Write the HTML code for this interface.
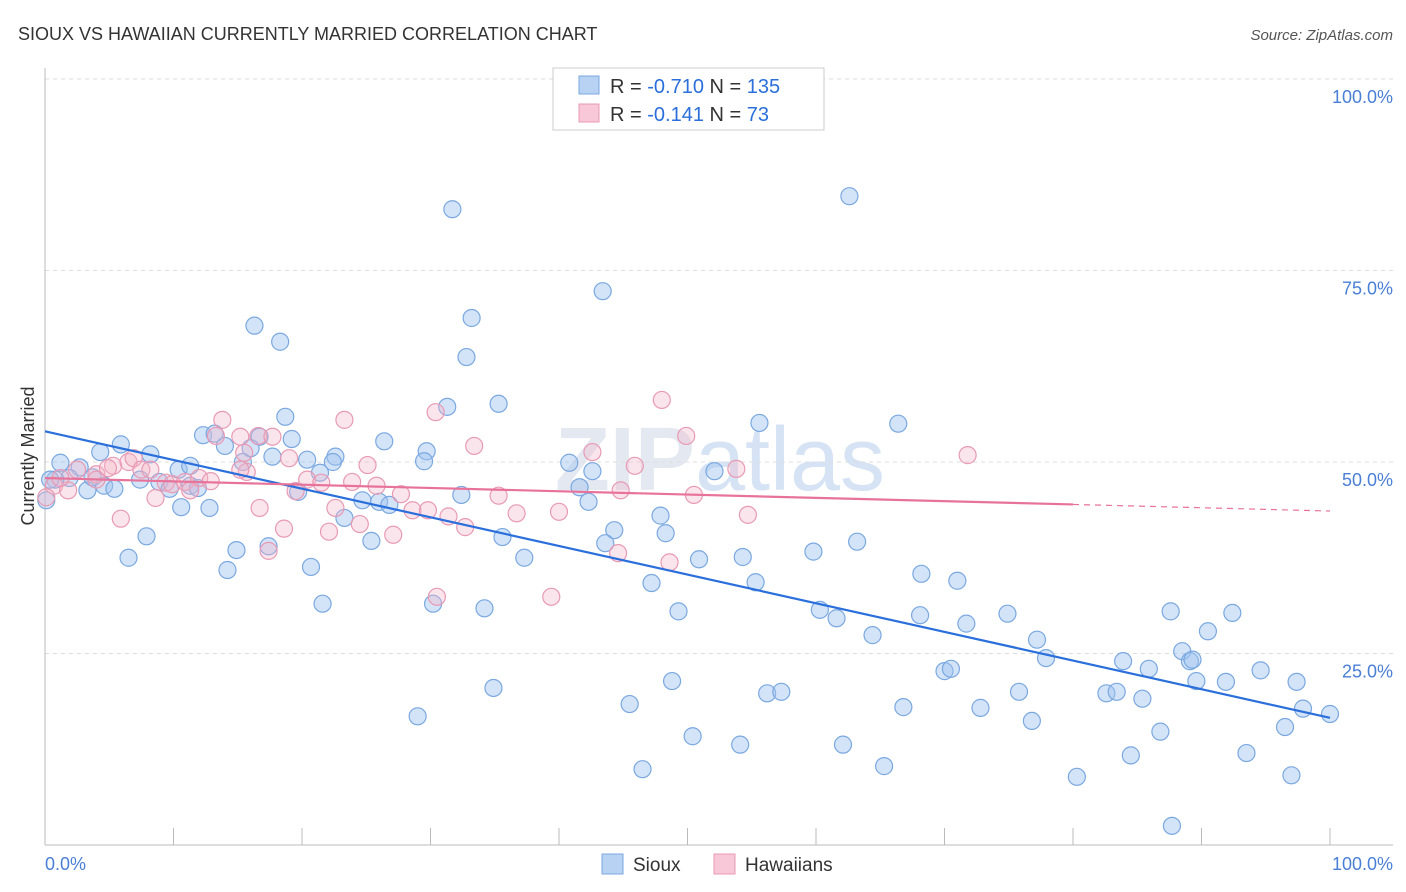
<!DOCTYPE html>
<html><head><meta charset="utf-8"><style>
body{margin:0;background:#fff;font-family:"Liberation Sans",sans-serif;}
svg{display:block}
</style></head><body>
<svg width="1406" height="892" xmlns="http://www.w3.org/2000/svg">
<text x="18" y="40" font-size="18" fill="#333">SIOUX VS HAWAIIAN CURRENTLY MARRIED CORRELATION CHART</text>
<text x="1393" y="40" font-size="15" fill="#555" text-anchor="end" font-style="italic">Source: ZipAtlas.com</text>
<text x="720" y="490" font-size="90" fill="#e4e9f1" text-anchor="middle" font-weight="bold">ZIP<tspan font-weight="normal" fill="#d6e3f5">atlas</tspan></text>
<text transform="translate(34,456) rotate(-90)" font-size="18" fill="#333" text-anchor="middle">Currently Married</text>
<g id="grid"></g>
<g id="marks"></g>
<g id="trends"></g>
<g>
<rect x="553" y="68" width="271" height="62" fill="#fff" stroke="#ccc"/>
<rect x="579" y="76" width="20" height="18" fill="#b8d2f4" stroke="#7aa8e0"/>
<rect x="579" y="104" width="20" height="18" fill="#f8c8d8" stroke="#e89ab4"/>
<text x="610" y="93" font-size="20" fill="#333">R = <tspan fill="#2a6fdb">-0.710</tspan>   N = <tspan fill="#2a6fdb">135</tspan></text>
<text x="610" y="121" font-size="20" fill="#333">R =  <tspan fill="#2a6fdb">-0.141</tspan>   N =  <tspan fill="#2a6fdb"> 73</tspan></text>
</g>
<g>
<rect x="602" y="854" width="21" height="20" fill="#b8d2f4" stroke="#7aa8e0"/>
<text x="633" y="871" font-size="19" fill="#333">Sioux</text>
<rect x="714" y="854" width="21" height="20" fill="#f8c8d8" stroke="#e89ab4"/>
<text x="745" y="871" font-size="19" fill="#333">Hawaiians</text>
</g>
</svg>
<script>
const yTicks=[100,75,50,25];
const xTickLabels=["0.0%","100.0%"];
const blueX=[62.6,31.7,43.4,16.3,18.3,33.2,32.8,35.3,31.3,18.7,55.6,66.4,5.9,8.2,4.3,12.3,13.2,16.7,19.2,26.4,29.7,29.5,22.6,20.4,22.4,15.4,16.0,17.7,14.0,1.2,2.7,1.9,0.8,3.3,4.6,5.4,3.7,7.4,8.9,9.7,11.3,10.4,11.3,11.9,10.6,12.8,7.9,6.5,14.9,14.2,17.4,20.7,21.6,19.7,21.4,23.3,24.7,26.0,25.4,26.8,32.4,35.6,37.3,40.8,41.6,42.6,42.3,44.3,43.6,30.2,34.2,29.0,34.9,45.5,46.5,47.9,48.3,47.2,49.3,48.8,50.4,50.9,52.1,54.3,55.3,54.1,56.2,57.3,59.8,60.3,61.6,63.2,64.4,62.1,65.3,66.8,68.2,68.1,70.0,70.5,71.0,71.7,72.8,74.9,75.8,77.2,77.9,76.8,80.3,82.6,83.4,83.9,84.5,85.4,85.9,86.8,87.6,88.5,89.1,89.3,89.6,90.5,91.9,92.4,94.6,93.5,87.7,96.5,97.4,97.0,97.9,100.0,0.4,0.1];
const blueY=[84.7,83.0,72.3,67.8,65.7,68.8,63.7,57.6,57.2,55.9,55.1,55.0,52.3,51.0,51.3,53.5,53.7,53.3,53.0,52.7,51.4,50.1,50.7,50.3,50.0,50.0,51.8,50.7,52.1,49.9,49.3,47.9,47.7,46.3,46.9,46.5,48.0,47.7,47.4,46.5,46.9,49.0,49.5,46.6,44.1,44.0,40.3,37.5,38.5,35.9,39.0,36.3,31.5,46.1,48.6,42.7,45.0,44.8,39.7,44.4,45.7,40.2,37.5,49.9,46.7,48.8,44.8,41.1,39.4,31.5,30.9,16.8,20.5,18.4,9.9,43.0,40.7,34.2,30.5,21.4,14.2,37.3,48.8,37.6,34.3,13.1,19.8,20.0,38.3,30.7,29.6,39.6,27.4,13.1,10.3,18.0,35.4,30.0,22.7,23.0,34.5,28.9,17.9,30.2,20.0,26.8,24.4,16.2,8.9,19.8,20.0,24.0,11.7,19.1,23.0,14.8,30.5,25.3,24.0,24.2,21.4,27.9,21.3,30.3,22.8,12.0,2.5,15.4,21.3,9.1,17.8,17.1,47.7,45.0];
const pinkX=[0.7,1.8,0.1,1.2,2.5,4.0,4.0,5.3,6.5,6.9,7.5,8.2,8.6,9.4,9.9,10.9,12.0,12.9,5.9,13.8,13.3,15.2,15.5,15.7,16.7,16.6,17.7,18.6,17.4,19.0,19.5,20.4,21.5,22.1,22.6,23.3,23.9,24.5,25.1,25.8,27.1,27.7,28.6,29.8,30.4,30.5,31.4,32.7,33.4,35.3,36.7,39.4,40.0,42.6,44.6,44.8,45.9,48.0,48.6,49.9,50.5,53.8,54.7,71.8,15.2,11.3,4.9];
const pinkY=[46.9,46.3,45.4,47.9,49.0,48.4,47.7,49.5,50.0,50.5,49.0,49.0,45.3,47.3,47.1,47.4,47.9,47.5,42.6,55.5,53.4,53.3,51.2,48.7,44.0,53.4,53.3,41.3,38.4,50.5,46.2,47.7,47.3,40.9,44.0,55.5,47.4,41.9,49.6,46.9,40.5,45.8,43.7,43.7,56.5,32.4,42.9,41.5,52.1,45.6,43.3,32.4,43.5,51.3,38.1,46.3,49.5,58.1,36.9,53.4,45.7,49.1,43.1,50.9,49.0,46.3,49.2];
const blueTrend=[54.0,16.6];
const pinkTrend=[47.9,43.6];
const pinkSolidEnd=80;

const NS="http://www.w3.org/2000/svg";
const X0=45,X1=1330,Y0=845,Y100=79;
const sx=v=>X0+(X1-X0)*v/100;
const sy=v=>Y0-(Y0-Y100)*v/100;
function mk(tag,attrs,parent){const e=document.createElementNS(NS,tag);for(const k in attrs)e.setAttribute(k,attrs[k]);parent.appendChild(e);return e;}
const grid=document.getElementById('grid'),marks=document.getElementById('marks'),trends=document.getElementById('trends');
yTicks.forEach(t=>{
 const l=mk('line',{x1:45,x2:1393,y1:sy(t),y2:sy(t),stroke:'#ddd','stroke-dasharray':'4,4'},grid);
 
 
 const tx=mk('text',{x:1393,y:sy(t)+24,'font-size':18,fill:'#4a7fd6','text-anchor':'end'},grid);
 tx.textContent=t.toFixed(1)+'%';
 
 
});
const ya=mk('line',{x1:45,x2:45,y1:68,y2:845,stroke:'#bbb'},grid);


const xa=mk('line',{x1:45,x2:1393,y1:845,y2:845,stroke:'#bbb'},grid);


for(let i=0;i<=10;i++){
 const t=mk('line',{x1:sx(i*10),x2:sx(i*10),y1:828,y2:845,stroke:'#bbb'},grid);
 
 
}
[[0,'start',45],[1,'end',1393]].forEach(([i,a,x])=>{
 const t=mk('text',{x:x,y:870,'font-size':18,fill:'#4a7fd6','text-anchor':a},grid);
 t.textContent=xTickLabels[i];
 
 
});
blueX.forEach((v,i)=>{
 const c=mk('circle',{cx:sx(v),cy:sy(blueY[i]),r:8.5,fill:'rgba(160,196,240,0.45)',stroke:'#7aa8e0','stroke-width':1.2},marks);
 
 
});
pinkX.forEach((v,i)=>{
 const c=mk('circle',{cx:sx(v),cy:sy(pinkY[i]),r:8.5,fill:'rgba(244,180,200,0.35)',stroke:'#e89ab4','stroke-width':1.2},marks);
 
 
});
const bl=mk('line',{x1:sx(0),y1:sy(blueTrend[0]),x2:sx(100),y2:sy(blueTrend[1]),stroke:'#2a6fdb','stroke-width':2.2},trends);


const pm=pinkTrend[0]+(pinkTrend[1]-pinkTrend[0])*pinkSolidEnd/100;
const pl=mk('line',{x1:sx(0),y1:sy(pinkTrend[0]),x2:sx(pinkSolidEnd),y2:sy(pm),stroke:'#e8739a','stroke-width':2.2},trends);


const pd=mk('line',{x1:sx(pinkSolidEnd),y1:sy(pm),x2:sx(100),y2:sy(pinkTrend[1]),stroke:'#e8739a','stroke-width':1.2,'stroke-dasharray':'6,5'},trends);


</script>
</body></html>
